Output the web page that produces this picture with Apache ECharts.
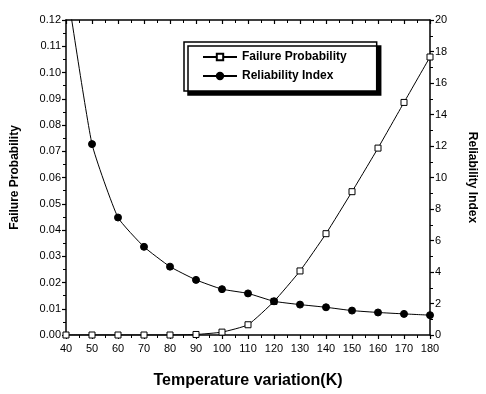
<!DOCTYPE html>
<html>
<head>
<meta charset="utf-8">
<script src="https://cdn.jsdelivr.net/npm/echarts@6/dist/echarts.min.js"></script>
<style>
  html, body { margin: 0; padding: 0; background: #fff; }
  #chart { width: 486px; height: 394px; }
</style>
</head>
<body>
<div id="chart"></div>
<script>
// temperature variation (K)
const temperature = [40, 50, 60, 70, 80, 90, 100, 110, 120, 130, 140, 150, 160, 170, 180];
// failure probability, left axis
const failureProbability = [0, 0, 0, 0, 0, 0.0002, 0.0011, 0.0039, 0.0128, 0.0244, 0.0386, 0.0546, 0.0712, 0.0886, 0.1059];
// reliability index, right axis (first point runs off the top)
const reliabilityIndex = [22.4, 12.12, 7.46, 5.6, 4.34, 3.5, 2.91, 2.64, 2.14, 1.93, 1.76, 1.55, 1.43, 1.34, 1.26];

const FONT = '"Liberation Sans", Arial, sans-serif';

const chart = echarts.init(document.getElementById('chart'), null, { renderer: 'canvas' });

const axisLine = { show: true, onZero: false, lineStyle: { color: '#000', width: 1.5 } };
const tickLabel = { color: '#000', fontFamily: FONT, fontSize: 11 };

const option = {
  animation: false,
  backgroundColor: '#fff',
  grid: { left: 66, right: 47, top: 20, bottom: 56 },
  legend: {
    orient: 'vertical',
    left: 184,
    top: 42,
    padding: [9, 30, 9, 18],
    itemGap: 7,
    itemWidth: 34,
    itemHeight: 8,
    backgroundColor: '#fff',
    borderColor: '#000',
    borderWidth: 1.5,
    shadowColor: '#000',
    shadowBlur: 0,
    shadowOffsetX: 4,
    shadowOffsetY: 4,
    textStyle: { color: '#000', fontFamily: FONT, fontSize: 12, fontWeight: 'bold' },
    data: ['Failure Probability', 'Reliability Index']
  },
  xAxis: [
    {
      type: 'value',
      min: 40, max: 180, interval: 10,
      position: 'bottom',
      name: 'Temperature variation(K)',
      nameLocation: 'middle',
      nameGap: 38,
      nameTextStyle: { color: '#000', fontFamily: FONT, fontSize: 16, fontWeight: 'bold' },
      axisLine: axisLine,
      axisTick: { show: true, length: 4, lineStyle: { color: '#000', width: 1.2 } },
      minorTick: { show: true, splitNumber: 2, length: 3, lineStyle: { color: '#000' } },
      axisLabel: Object.assign({ margin: 8 }, tickLabel),
      splitLine: { show: false }
    },
    {
      type: 'value',
      min: 40, max: 180, interval: 10,
      position: 'top',
      axisLine: axisLine,
      axisTick: { show: true, inside: true, length: 4, lineStyle: { color: '#000', width: 1.2 } },
      minorTick: { show: true, splitNumber: 2, length: 3, lineStyle: { color: '#000' } },
      axisLabel: { show: false },
      splitLine: { show: false }
    }
  ],
  yAxis: [
    {
      type: 'value',
      min: 0, max: 0.12, interval: 0.01,
      position: 'left',
      name: 'Failure Probability',
      nameLocation: 'middle',
      nameRotate: 90,
      nameGap: 45,
      nameTextStyle: { color: '#000', fontFamily: FONT, fontSize: 12, fontWeight: 'bold' },
      axisLine: axisLine,
      axisTick: { show: true, length: 4, lineStyle: { color: '#000', width: 1.2 } },
      minorTick: { show: true, splitNumber: 2, length: 3, lineStyle: { color: '#000' } },
      axisLabel: Object.assign({ margin: 5, formatter: v => v.toFixed(2) }, tickLabel),
      splitLine: { show: false }
    },
    {
      type: 'value',
      min: 0, max: 20, interval: 2,
      position: 'right',
      name: 'Reliability Index',
      nameLocation: 'middle',
      nameRotate: -90,
      nameGap: 36,
      nameTextStyle: { color: '#000', fontFamily: FONT, fontSize: 12, fontWeight: 'bold' },
      axisLine: axisLine,
      axisTick: { show: true, length: 4, lineStyle: { color: '#000', width: 1.2 } },
      minorTick: { show: true, splitNumber: 2, length: 3, lineStyle: { color: '#000' } },
      axisLabel: Object.assign({ margin: 5 }, tickLabel),
      splitLine: { show: false }
    }
  ],
  series: [
    {
      name: 'Failure Probability',
      type: 'line',
      xAxisIndex: 0,
      yAxisIndex: 0,
      data: temperature.map((t, i) => [t, failureProbability[i]]),
      symbol: 'rect',
      symbolSize: 6,
      smooth: 0.15,
      lineStyle: { color: '#000', width: 1 },
      itemStyle: { color: '#fff', borderColor: '#000', borderWidth: 1 },
      z: 3
    },
    {
      name: 'Reliability Index',
      type: 'line',
      xAxisIndex: 0,
      yAxisIndex: 1,
      data: temperature.map((t, i) => [t, reliabilityIndex[i]]),
      symbol: 'circle',
      symbolSize: 7,
      smooth: 0.15,
      clip: true,
      lineStyle: { color: '#000', width: 1 },
      itemStyle: { color: '#000', borderColor: '#000', borderWidth: 1 },
      z: 4
    }
  ]
};

chart.setOption(option);
</script>
</body>
</html>
